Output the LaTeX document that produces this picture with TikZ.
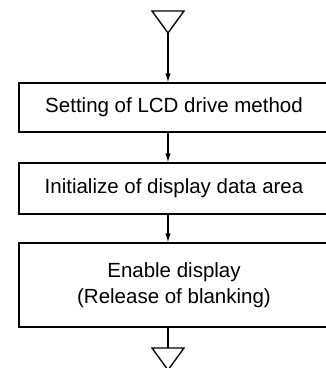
\documentclass[tikz,border=0pt]{standalone}
\usepackage{fontspec}
\setmainfont{Liberation Sans}
\usetikzlibrary{arrows.meta}
\tikzset{
  stepbox/.style={draw, line width=1.3pt, rectangle, minimum width=310pt, inner sep=0pt,
    font=\fontsize{20.5}{26}\selectfont, align=center},
  flow/.style={line width=1.3pt, -{Latex[length=9pt,width=5.5pt]}},
  plain/.style={line width=1.3pt},
  tri/.style={line width=1.3pt, line join=miter}
}
\begin{document}
\begin{tikzpicture}[x=1pt,y=-1pt]
\useasboundingbox (0,0) rectangle (326,368);
\clip (0,0) rectangle (326,368);
% top triangle
\coordinate (t1) at (168,33);
\draw[tri] (152,11) -- (184,11) -- (t1) -- cycle;
% boxes
\node[stepbox, minimum height=49pt] (b1) at (174,107.5) {Setting of LCD drive method};
\node[stepbox, minimum height=51pt] (b2) at (174,188.5) {Initialize of display data area};
\node[stepbox, minimum height=84pt] (b3) at (174,285) {Enable display\\(Release of blanking)};
% bottom triangle
\coordinate (t2) at (168,348);
\draw[tri] (152,348) -- (184,348) -- (168,370) -- cycle;
% connectors
\draw[flow] (t1) -- (t1 |- b1.north);
\draw[flow] (t1 |- b1.south) -- (t1 |- b2.north);
\draw[flow] (t1 |- b2.south) -- (t1 |- b3.north);
\draw[plain] (t1 |- b3.south) -- (t2);
\end{tikzpicture}
\end{document}
